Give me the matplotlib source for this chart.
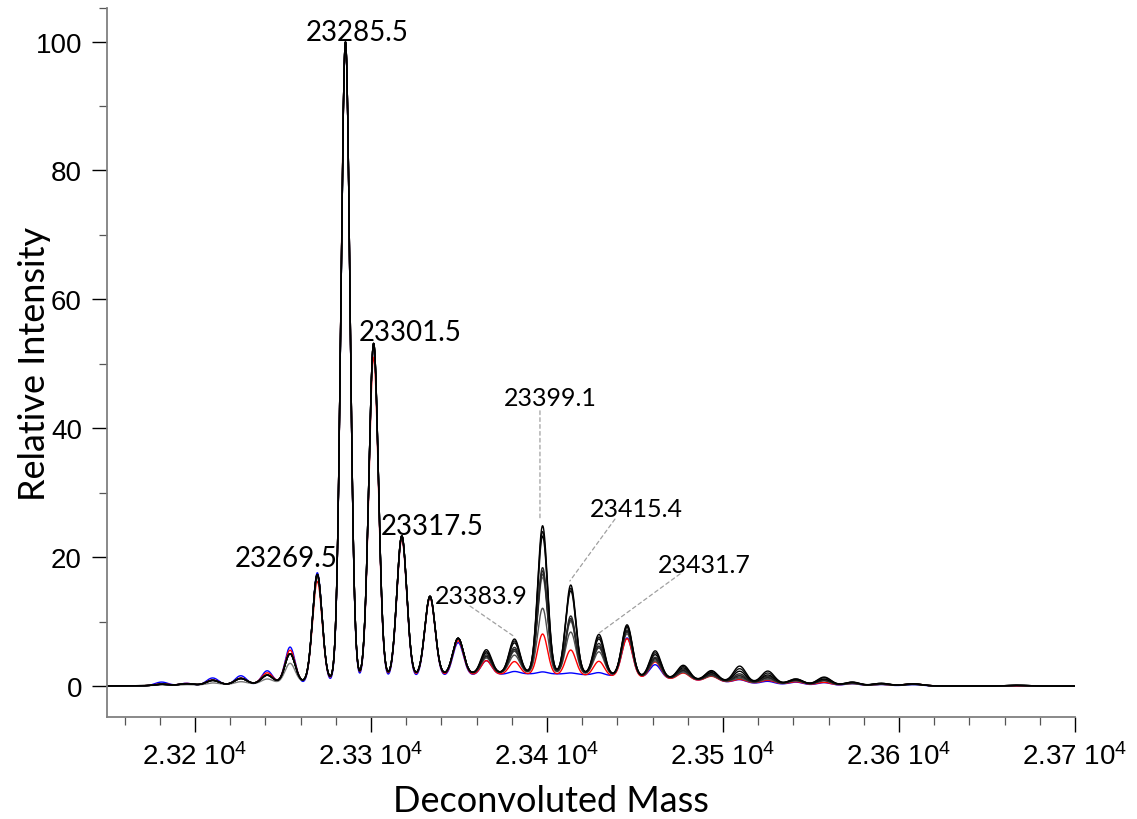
import numpy as np
import matplotlib
matplotlib.use('Agg')
import matplotlib.pyplot as plt
from matplotlib.ticker import MultipleLocator, FixedLocator, FuncFormatter

plt.rcParams['font.family'] = ['Liberation Sans', 'DejaVu Sans']
plt.rcParams['mathtext.default'] = 'regular'

# peak centres (Da) and widths
peak_mass = [23181, 23195, 23210, 23226, 23241, 23254, 23269.5, 23285.5, 23301.5, 23317.5,
             23333.5, 23349.5, 23365.5, 23381.5, 23397.5, 23413.5, 23429.5, 23445.5, 23461.5,
             23477.5, 23493.5, 23509.5, 23525.5, 23541.5, 23557.5, 23573.5, 23590, 23608, 23667]
peak_sigma = [3.8, 3.8, 3.6, 3.4, 3.2, 2.9, 2.7, 2.55, 2.7, 2.8,
              2.9, 3.0, 3.0, 3.0, 2.8, 2.9, 3.0, 3.0, 3.2,
              3.4, 3.5, 3.5, 3.6, 3.8, 3.8, 4.0, 4.4, 5.0, 6.0]

blue_height = [0.6, 0.4, 1.2, 1.5, 2.2, 5.8, 17.2, 99.2, 52.0, 22.0,
               12.5, 5.2, 2.2, 0.4, 0.3, 0.2, 0.4, 6.0, 2.1,
               1.2, 0.9, 0.5, 0.4, 0.4, 0.4, 0.3, 0.2, 0.2, 0.0]
red_height = [0.3, 0.3, 0.8, 1.0, 1.7, 5.1, 15.6, 99.0, 50.0, 21.5,
              12.2, 5.4, 2.2, 2.0, 6.3, 3.9, 2.3, 6.0, 2.6,
              1.1, 0.8, 0.5, 0.5, 0.4, 0.4, 0.3, 0.2, 0.3, 0.0]
black_heights = [
    [0.2, 0.25, 0.7, 0.9, 1.3, 4.5, 16.6, 99.0, 52.0, 21.9, 12.3, 5.6, 3.7, 5.3, 22.9, 13.8, 6.3, 8.0, 4.2,
     2.2, 1.6, 2.5, 1.9, 0.8, 1.2, 0.5, 0.35, 0.3, 0.1],
    [0.2, 0.25, 0.7, 0.9, 1.3, 4.5, 16.6, 99.0, 52.0, 21.9, 12.3, 5.6, 3.4, 5.0, 22.0, 13.3, 5.9, 7.8, 3.9,
     2.0, 1.5, 2.1, 1.6, 0.8, 1.1, 0.45, 0.35, 0.3, 0.1],
    [0.2, 0.25, 0.7, 0.9, 1.3, 4.5, 16.6, 99.0, 52.0, 21.9, 12.3, 5.6, 3.2, 4.7, 21.3, 12.9, 5.6, 7.6, 3.6,
     1.8, 1.3, 1.7, 1.3, 0.7, 0.9, 0.45, 0.3, 0.3, 0.1],
    [0.2, 0.25, 0.7, 0.9, 1.3, 4.5, 16.6, 99.0, 52.0, 21.9, 12.3, 5.6, 2.9, 4.0, 16.4, 9.0, 4.9, 7.2, 3.2,
     1.6, 1.2, 1.3, 1.1, 0.7, 0.8, 0.35, 0.3, 0.3, 0.1],
    [0.2, 0.25, 0.7, 0.9, 1.3, 4.5, 16.6, 99.0, 52.0, 21.9, 12.3, 5.6, 2.7, 3.7, 15.9, 8.6, 4.5, 7.0, 3.0,
     1.4, 1.0, 1.0, 0.9, 0.6, 0.7, 0.35, 0.3, 0.25, 0.1],
    [0.2, 0.25, 0.7, 0.9, 1.3, 4.5, 16.6, 99.0, 52.0, 21.9, 12.3, 5.6, 2.6, 3.4, 15.4, 8.3, 4.2, 6.9, 2.8,
     1.3, 0.9, 0.8, 0.8, 0.6, 0.7, 0.35, 0.2, 0.25, 0.1],
    [0.2, 0.25, 0.7, 0.9, 1.3, 4.5, 16.6, 99.0, 52.0, 21.9, 12.3, 5.6, 2.4, 2.8, 10.1, 6.5, 3.6, 6.6, 2.6,
     1.1, 0.8, 0.6, 0.6, 0.5, 0.6, 0.25, 0.2, 0.2, 0.1],
    [0.1, 0.1, 0.3, 0.4, 0.7, 3.0, 16.1, 99.0, 51.5, 21.9, 12.3, 5.6, 2.6, 3.5, 14.9, 8.1, 4.3, 7.1, 3.1,
     1.5, 1.1, 1.1, 1.0, 0.6, 0.7, 0.35, 0.3, 0.3, 0.1],
]
black_colors = ['#000000', '#111111', '#000000', '#2a2a2a', '#1e1e1e', '#3a3a3a', '#505050', '#7a7a7a']

# broad hump under the peak ladder: centre, sigma, height
bg_black = (23385, 80, 2.0)
bg_red = (23385, 80, 1.8)
bg_blue = (23395, 70, 1.9)

labels_plain = ['23285.5', '23301.5', '23317.5', '23269.5']
labels_dashed = ['23383.9', '23399.1', '23415.4', '23431.7']

mass = np.arange(23150, 23700.01, 0.1)
centres = np.array(peak_mass)
sig = np.array(peak_sigma)


def spectrum(heights, bg):
    h = np.array(heights)
    y = (h[:, None] * np.exp(-0.5 * ((mass[None, :] - centres[:, None]) / sig[:, None]) ** 2)).sum(axis=0)
    c, s, a = bg
    return y + a * np.exp(-0.5 * ((mass - c) / s) ** 2)


fig = plt.figure(figsize=(11.37, 8.2), dpi=100)
ax = fig.add_axes([107 / 1137, 102 / 820, 968 / 1137, 709 / 820])

ax.plot(mass, spectrum(blue_height, bg_blue), color='#0000ff', lw=1.0)
ax.plot(mass, spectrum(red_height, bg_red), color='#ff0000', lw=1.0)
# lighter traces first so the black ones sit on top
for h, c in list(zip(black_heights, black_colors))[::-1]:
    ax.plot(mass, spectrum(h, bg_black), color=c, lw=1.0)

ax.set_xlim(23150, 23700)
ax.set_ylim(-4.8, 105.2)

for s in ['top', 'right']:
    ax.spines[s].set_visible(False)
for s in ['left', 'bottom']:
    ax.spines[s].set_color('#808080')
    ax.spines[s].set_linewidth(1.3)

ax.xaxis.set_major_locator(MultipleLocator(100))
ax.xaxis.set_minor_locator(MultipleLocator(20))
ax.yaxis.set_major_locator(FixedLocator([0, 20, 40, 60, 80, 100]))
ax.yaxis.set_minor_locator(FixedLocator([10, 30, 50, 70, 90, 105.2]))
ax.xaxis.set_major_formatter(FuncFormatter(lambda v, p: f'{v / 1e4:.2f} $10^4$'))
ax.tick_params(which='major', direction='out', length=11, width=1, color='black',
               labelsize=20, pad=7)
ax.tick_params(which='minor', direction='out', length=5.5, width=0.9, color='#555555')

lato = ['Lato', 'DejaVu Sans']
ax.set_xlabel('Deconvoluted Mass', fontsize=26, family=lato)
ax.set_ylabel('Relative Intensity', fontsize=26, family=lato)
ax.xaxis.set_label_coords(0.459, -0.094)
ax.yaxis.set_label_coords(-0.058, 0.5)

# peak labels
plain_pos = [(23292, 100.3), (23322.4, 53.7), (23335, 23.6), (23252, 18.6)]
for t, (x, y) in zip(labels_plain, plain_pos):
    ax.text(x, y, t, ha='center', va='baseline', fontsize=20, family=lato)

dashed_pos = [(23362.8, 12.9), (23402, 43.6), (23450.6, 26.4), (23489.5, 17.7)]
for t, (x, y) in zip(labels_dashed, dashed_pos):
    ax.text(x, y, t, ha='center', va='baseline', fontsize=18, family=lato)

leaders = [((23356.3, 12.4), (23381.8, 7.6)),
           ((23396, 42.7), (23396, 25.9)),
           ((23438.6, 25.9), (23413, 16.3)),
           ((23475.6, 17.4), (23429, 8.1))]
for start, end in leaders:
    ax.annotate('', xy=end, xytext=start,
                arrowprops=dict(arrowstyle='-', linestyle=(0, (3, 2.5)), color='#a0a0a0',
                                lw=0.9, shrinkA=0, shrinkB=0))

fig.savefig('out.png', dpi=100)
